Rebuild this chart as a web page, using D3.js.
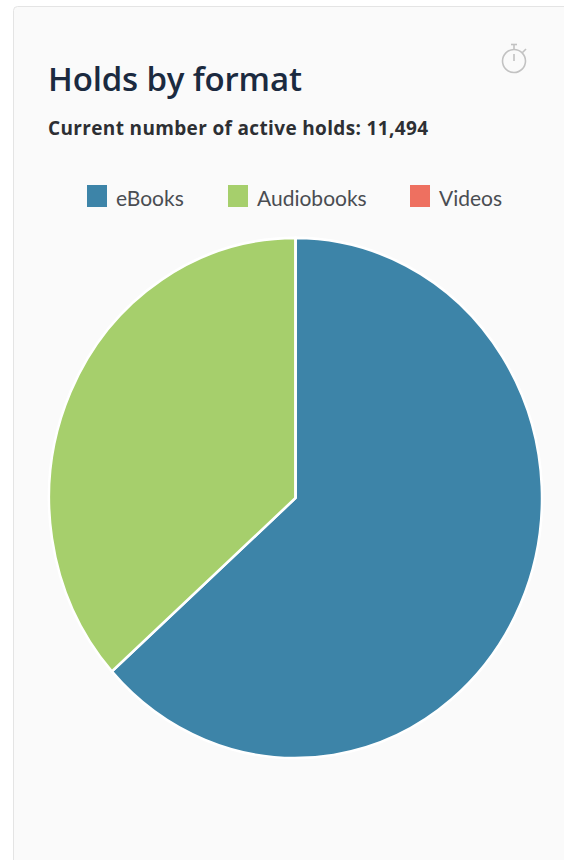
<!DOCTYPE html>
<html>
<head>
<meta charset="utf-8">
<script src="https://cdn.jsdelivr.net/npm/d3@7"></script>
<style>
  html, body { margin: 0; padding: 0; background: #fff; overflow: hidden; }
  svg { display: block; font-family: Lato, "Open Sans", sans-serif; }
</style>
</head>
<body>
<script>
/*** data ***/
const formats = ["eBooks", "Audiobooks", "Videos"];
const holds = [7285, 4209, 0];
const colors = ["#3d84a8", "#a6cf6c", "#ee7060"];
const legendX = [87, 228, 410]; // legend entries are not evenly spaced
const titleText = "Holds by format";
const subtitleText = "Current number of active holds: 11,494";

const width = 564, height = 860;

/*** draw ***/
const svg = d3.select("body").append("svg")
  .attr("width", width)
  .attr("height", height);

// card
svg.append("rect")
  .attr("x", 13.5).attr("y", 6.5)
  .attr("width", 600).attr("height", 900)
  .attr("rx", 4)
  .attr("fill", "#fafafa")
  .attr("stroke", "#e4e4e4");

svg.append("text")
  .attr("x", 48).attr("y", 91)
  .attr("font-family", "'Open Sans', sans-serif")
  .attr("font-size", 33)
  .attr("font-weight", 600)
  .attr("letter-spacing", -0.15)
  .attr("fill", "#1b2a40")
  .text(titleText);

svg.append("text")
  .attr("x", 48).attr("y", 135)
  .attr("font-family", "'Open Sans', sans-serif")
  .attr("font-size", 19)
  .attr("font-weight", 700)
  .attr("letter-spacing", 0.35)
  .attr("fill", "#2d2f33")
  .text(subtitleText);

// stopwatch icon
const watch = svg.append("g")
  .attr("transform", "translate(514,61)")
  .attr("fill", "none")
  .attr("stroke", "#c2c2c2")
  .attr("stroke-width", 1.6);
watch.append("circle").attr("r", 11.5);
watch.append("path").attr("d", d3.line()([[0, -11.5], [0, -16]]));
watch.append("path").attr("d", d3.line()([[-3, -16.5], [3, -16.5]]));
watch.append("path").attr("d", d3.line()([[0, -7], [0, 0]]));
watch.append("path").attr("d", d3.line()([[8.5, -8.5], [12, -12]]));

// legend
const legend = svg.append("g").selectAll("g")
  .data(formats)
  .join("g")
  .attr("transform", (d, i) => `translate(${legendX[i]},185)`);

legend.append("rect")
  .attr("width", 20).attr("height", 22)
  .attr("fill", (d, i) => colors[i]);

legend.append("text")
  .attr("x", 29).attr("y", 20.5)
  .attr("font-size", 21)
  .attr("fill", "#4a4d52")
  .text(d => d);

// pie, stretched a little taller than wide like the reference
const pie = d3.pie().sort(null)(holds);
const arc = d3.arc().innerRadius(0).outerRadius(246.5);

svg.append("g")
  .attr("transform", "translate(295.5,498) scale(1,1.055)")
  .selectAll("path")
  .data(pie)
  .join("path")
  .attr("d", arc)
  .attr("fill", (d, i) => colors[i])
  .attr("stroke", "#fff")
  .attr("stroke-width", 2.5);
</script>
</body>
</html>
